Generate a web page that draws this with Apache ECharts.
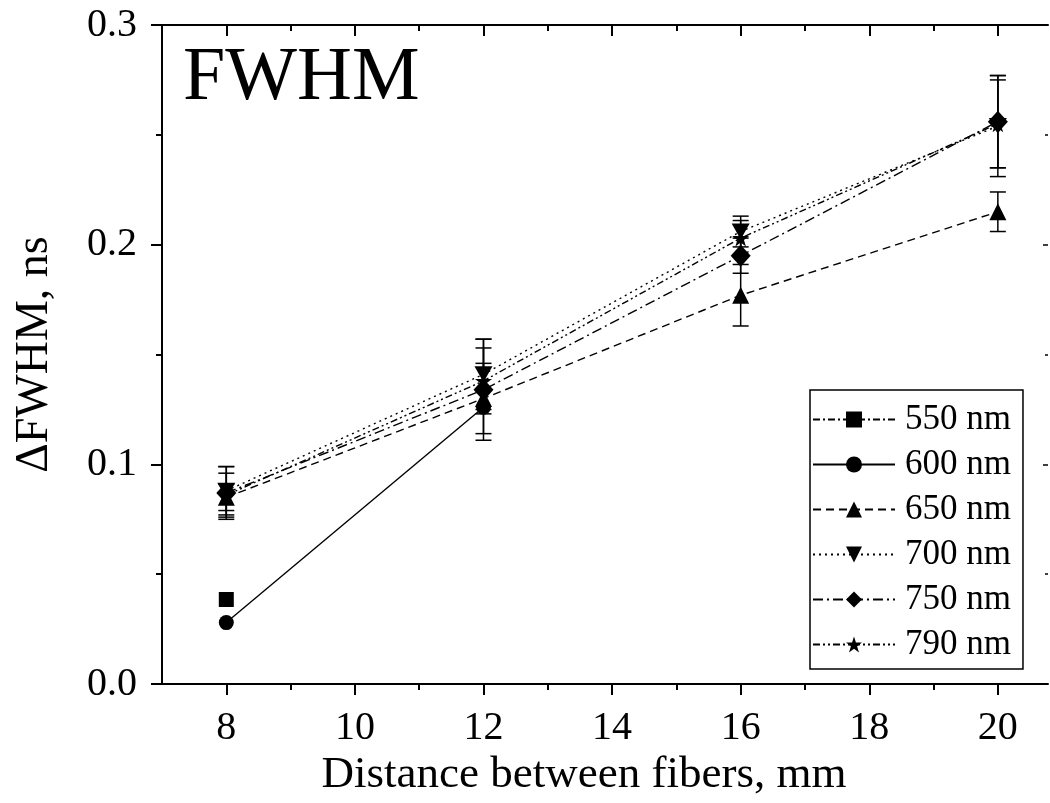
<!DOCTYPE html>
<html>
<head>
<meta charset="utf-8">
<script src="https://cdn.jsdelivr.net/npm/echarts@6/dist/echarts.min.js"></script>
<style>html,body{margin:0;padding:0;background:#fff}#c{width:1050px;height:803px}</style>
</head>
<body>
<div id="c"></div>
<script>
// ---- data ----
const seriesNames = ['550 nm', '600 nm', '650 nm', '700 nm', '750 nm', '790 nm'];
const x550 = [8];
const y550 = [0.0385];
const x600 = [8, 12];
const y600 = [0.028, 0.126];
const xAll = [8, 12, 16, 20];
const y650 = [0.085, 0.130, 0.177, 0.215];
const y700 = [0.088, 0.141, 0.206, 0.254];
const y750 = [0.087, 0.134, 0.195, 0.256];
const y790 = [0.086, 0.138, 0.203, 0.255];
const err650 = [0.006, 0.016, 0.014, 0.009];
const err700 = [0.011, 0.016, 0.007, 0.023];
const err750 = [0.012, 0.023, 0.008, 0.021];
const err790 = [0.010, 0.015, 0.008, 0.020];
const xMajorTicks = [8, 10, 12, 14, 16, 18, 20];
const xMinorTicks = [9, 11, 13, 15, 17, 19];
const titleText = 'FWHM';
const xName = 'Distance between fibers, mm';
const yName = 'ΔFWHM, ns';

const FONT = '"Liberation Serif", "Times New Roman", serif';
const pairs = (xs, ys) => xs.map((x, i) => [x, ys[i]]);
const errData = (xs, ys, es) => xs.map((x, i) => [x, ys[i] - es[i], ys[i] + es[i]]);

const star = 'path://M50,0 L61.8,35.1 L98.9,35.1 L69,56.7 L80.4,91.9 L50,70.2 L19.6,91.9 L31,56.7 L1.1,35.1 L38.2,35.1 Z';
const downTri = 'path://M0,0 L100,0 L50,90 Z';

function lineSeries(name, data, symbol, size, dash) {
  return {
    name, type: 'line', data, symbol, symbolSize: size,
    xAxisIndex: 0, yAxisIndex: 0,
    lineStyle: { color: '#000', width: 1.4, type: dash },
    itemStyle: { color: '#000', borderWidth: 0 },
    emphasis: { disabled: true }, z: 3
  };
}

function renderErr(params, api) {
  const x = api.value(0), lo = api.value(1), hi = api.value(2);
  const a = api.coord([x, lo]), b = api.coord([x, hi]);
  const w = 8;
  const st = { stroke: '#000', lineWidth: 1.5 };
  return {
    type: 'group', children: [
      { type: 'line', shape: { x1: a[0], y1: a[1], x2: b[0], y2: b[1] }, style: st },
      { type: 'line', shape: { x1: a[0] - w, y1: a[1], x2: a[0] + w, y2: a[1] }, style: st },
      { type: 'line', shape: { x1: b[0] - w, y1: b[1], x2: b[0] + w, y2: b[1] }, style: st }
    ]
  };
}
function errSeries(data) {
  return { type: 'custom', renderItem: renderErr, data, xAxisIndex: 0, yAxisIndex: 0, z: 2, silent: true };
}

const xBase = { type: 'value', gridIndex: 0, min: 7, max: 20.78, splitLine: { show: false } };

const option = {
  animation: false,
  backgroundColor: '#fff',
  title: {
    text: titleText, left: 178, top: 36,
    textStyle: { fontFamily: FONT, fontSize: 76, fontWeight: 'normal', color: '#000' }
  },
  grid: { left: 162, top: 25, right: 2, bottom: 115, containLabel: false },
  legend: {
    data: seriesNames, orient: 'vertical', left: 810, top: 390,
    itemWidth: 82, itemHeight: 20, itemGap: 10,
    padding: [12, 12, 7, 2],
    borderColor: '#000', borderWidth: 1.5, borderRadius: 0,
    backgroundColor: '#fff',
    selectedMode: false,
    textStyle: { fontFamily: FONT, fontSize: 35, color: '#000', lineHeight: 34, padding: [0, 0, 0, 5] }
  },
  xAxis: [
    Object.assign({}, xBase, {
      position: 'bottom', name: xName, nameLocation: 'middle', nameGap: 61,
      nameTextStyle: { fontFamily: FONT, fontSize: 45, color: '#000', padding: [0, 42, 0, 0] },
      axisLine: { show: true, onZero: false, lineStyle: { color: '#000', width: 2 } },
      axisTick: { show: true, inside: false, length: 11, customValues: xMajorTicks, lineStyle: { color: '#000', width: 2 } },
      axisLabel: { show: true, customValues: xMajorTicks, margin: 24, fontFamily: FONT, fontSize: 40, color: '#000' }
    }),
    Object.assign({}, xBase, {
      position: 'bottom',
      axisLine: { show: false, onZero: false },
      axisTick: { show: true, inside: false, length: 6, customValues: xMinorTicks, lineStyle: { color: '#000', width: 2 } },
      axisLabel: { show: false }
    }),
    Object.assign({}, xBase, {
      position: 'top',
      axisLine: { show: true, onZero: false, lineStyle: { color: '#000', width: 2 } },
      axisTick: { show: true, inside: true, length: 11, customValues: xMajorTicks, lineStyle: { color: '#000', width: 2 } },
      axisLabel: { show: false }
    }),
    Object.assign({}, xBase, {
      position: 'top',
      axisLine: { show: false, onZero: false },
      axisTick: { show: true, inside: true, length: 6, customValues: xMinorTicks, lineStyle: { color: '#000', width: 2 } },
      axisLabel: { show: false }
    })
  ],
  yAxis: [
    {
      type: 'value', gridIndex: 0, position: 'left', min: 0, max: 0.3, interval: 0.1,
      name: yName, nameLocation: 'middle', nameGap: 104,
      nameTextStyle: { fontFamily: FONT, fontSize: 46, color: '#000' },
      splitLine: { show: false },
      axisLine: { show: true, onZero: false, lineStyle: { color: '#000', width: 2 } },
      axisTick: { show: true, inside: false, length: 11, lineStyle: { color: '#000', width: 2 } },
      minorTick: { show: true, splitNumber: 2, length: 6, lineStyle: { color: '#000', width: 2 } },
      axisLabel: { margin: 25, fontFamily: FONT, fontSize: 40, color: '#000', formatter: v => v.toFixed(1) }
    },
    {
      type: 'value', gridIndex: 0, position: 'right', min: 0, max: 0.3, interval: 0.1,
      splitLine: { show: false },
      axisLine: { show: false, onZero: false },
      axisTick: { show: true, inside: true, length: 5, lineStyle: { color: '#000', width: 1.5 } },
      minorTick: { show: true, splitNumber: 2, length: 3, lineStyle: { color: '#000', width: 1.5 } },
      axisLabel: { show: false }
    }
  ],
  series: [
    errSeries(errData(xAll, y650, err650)),
    errSeries(errData(xAll, y700, err700)),
    errSeries(errData(xAll, y750, err750)),
    errSeries(errData(xAll, y790, err790)),
    lineSeries(seriesNames[0], pairs(x550, y550), 'rect', 15, [7, 3, 2, 3]),
    lineSeries(seriesNames[1], pairs(x600, y600), 'circle', 15, 'solid'),
    lineSeries(seriesNames[2], pairs(xAll, y650), 'triangle', 17, [8, 5]),
    lineSeries(seriesNames[3], pairs(xAll, y700), downTri, [18, 16], [2, 4]),
    lineSeries(seriesNames[4], pairs(xAll, y750), 'diamond', [20, 22], [10, 4, 2, 4]),
    lineSeries(seriesNames[5], pairs(xAll, y790), star, 17, [7, 3, 2, 3, 2, 3])
  ]
};

const chart = echarts.init(document.getElementById('c'), null, { renderer: 'canvas' });
chart.setOption(option);
</script>
</body>
</html>
